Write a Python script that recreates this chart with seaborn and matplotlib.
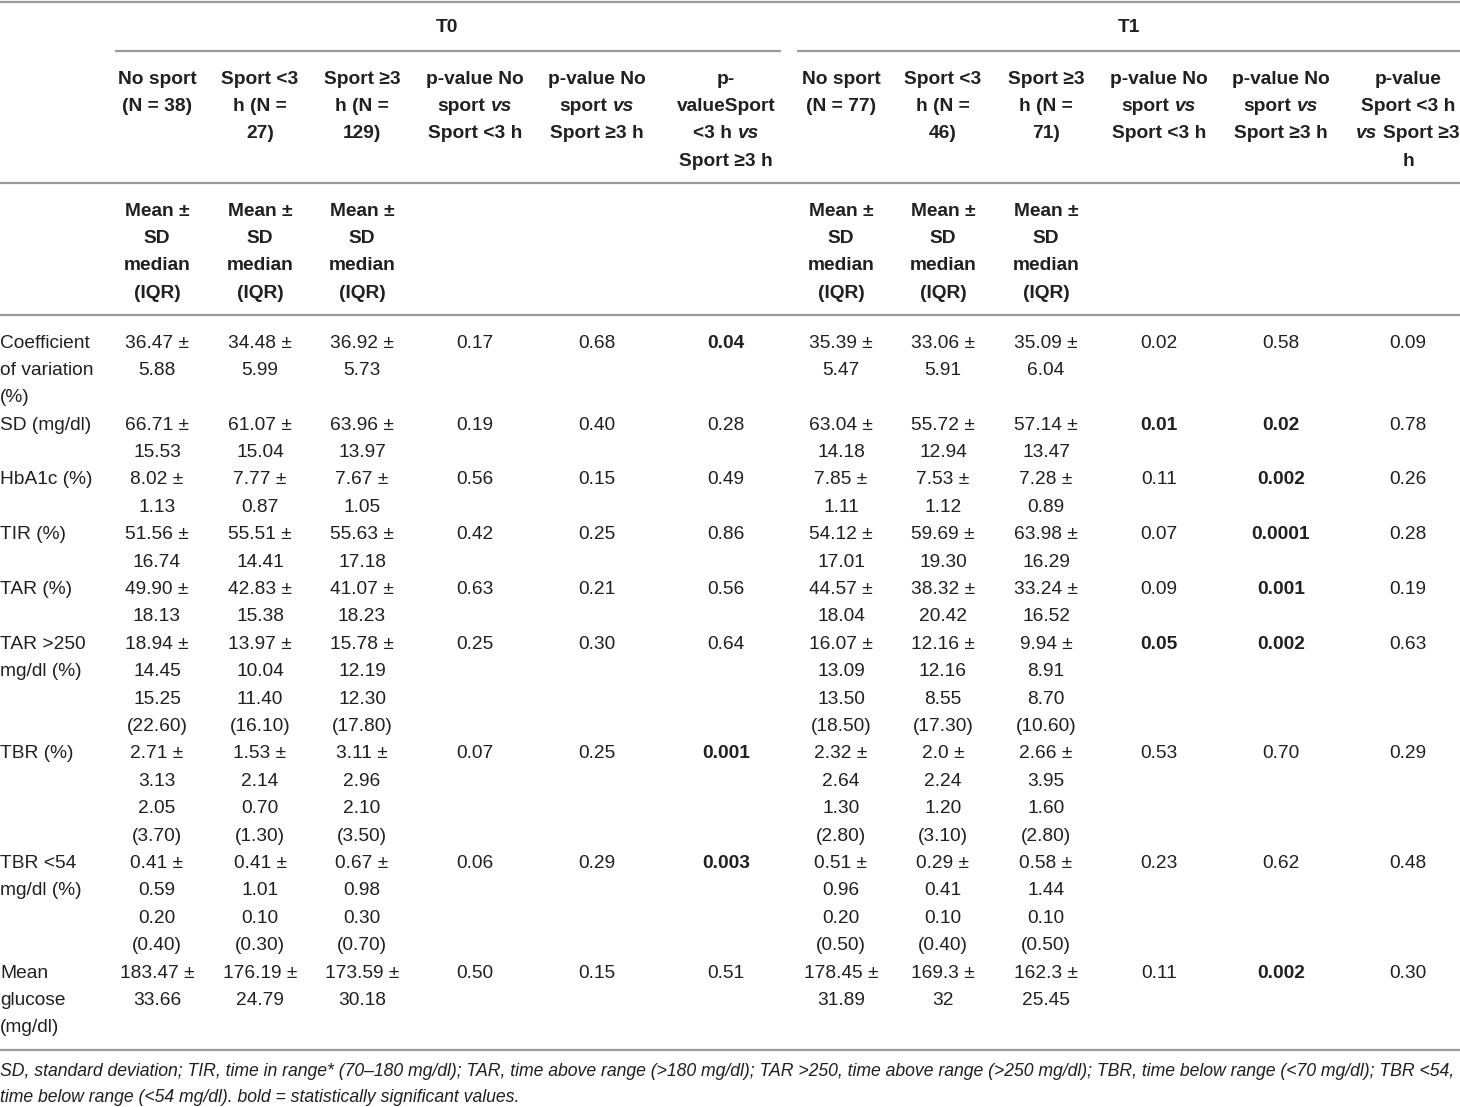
import matplotlib.pyplot as plt
import seaborn as sns

# --- table contents ---
row_labels = [
    ["Coefficient", "of variation", "(%)"],
    ["SD (mg/dl)"],
    ["HbA1c (%)"],
    ["TIR (%)"],
    ["TAR (%)"],
    ["TAR >250", "mg/dl (%)"],
    ["TBR (%)"],
    ["TBR <54", "mg/dl (%)"],
    ["Mean", "glucose", "(mg/dl)"],
]

# T0 groups
t0_nosport_mean = ["36.47", "66.71", "8.02", "51.56", "49.90", "18.94", "2.71", "0.41", "183.47"]
t0_nosport_sd = ["5.88", "15.53", "1.13", "16.74", "18.13", "14.45", "3.13", "0.59", "33.66"]
t0_nosport_median = ["", "", "", "", "", "15.25", "2.05", "0.20", ""]
t0_nosport_iqr = ["", "", "", "", "", "22.60", "3.70", "0.40", ""]

t0_lt3_mean = ["34.48", "61.07", "7.77", "55.51", "42.83", "13.97", "1.53", "0.41", "176.19"]
t0_lt3_sd = ["5.99", "15.04", "0.87", "14.41", "15.38", "10.04", "2.14", "1.01", "24.79"]
t0_lt3_median = ["", "", "", "", "", "11.40", "0.70", "0.10", ""]
t0_lt3_iqr = ["", "", "", "", "", "16.10", "1.30", "0.30", ""]

t0_ge3_mean = ["36.92", "63.96", "7.67", "55.63", "41.07", "15.78", "3.11", "0.67", "173.59"]
t0_ge3_sd = ["5.73", "13.97", "1.05", "17.18", "18.23", "12.19", "2.96", "0.98", "30.18"]
t0_ge3_median = ["", "", "", "", "", "12.30", "2.10", "0.30", ""]
t0_ge3_iqr = ["", "", "", "", "", "17.80", "3.50", "0.70", ""]

t0_p_nosport_lt3 = ["0.17", "0.19", "0.56", "0.42", "0.63", "0.25", "0.07", "0.06", "0.50"]
t0_p_nosport_ge3 = ["0.68", "0.40", "0.15", "0.25", "0.21", "0.30", "0.25", "0.29", "0.15"]
t0_p_lt3_ge3 = ["0.04", "0.28", "0.49", "0.86", "0.56", "0.64", "0.001", "0.003", "0.51"]

# T1 groups
t1_nosport_mean = ["35.39", "63.04", "7.85", "54.12", "44.57", "16.07", "2.32", "0.51", "178.45"]
t1_nosport_sd = ["5.47", "14.18", "1.11", "17.01", "18.04", "13.09", "2.64", "0.96", "31.89"]
t1_nosport_median = ["", "", "", "", "", "13.50", "1.30", "0.20", ""]
t1_nosport_iqr = ["", "", "", "", "", "18.50", "2.80", "0.50", ""]

t1_lt3_mean = ["33.06", "55.72", "7.53", "59.69", "38.32", "12.16", "2.0", "0.29", "169.3"]
t1_lt3_sd = ["5.91", "12.94", "1.12", "19.30", "20.42", "12.16", "2.24", "0.41", "32"]
t1_lt3_median = ["", "", "", "", "", "8.55", "1.20", "0.10", ""]
t1_lt3_iqr = ["", "", "", "", "", "17.30", "3.10", "0.40", ""]

t1_ge3_mean = ["35.09", "57.14", "7.28", "63.98", "33.24", "9.94", "2.66", "0.58", "162.3"]
t1_ge3_sd = ["6.04", "13.47", "0.89", "16.29", "16.52", "8.91", "3.95", "1.44", "25.45"]
t1_ge3_median = ["", "", "", "", "", "8.70", "1.60", "0.10", ""]
t1_ge3_iqr = ["", "", "", "", "", "10.60", "2.80", "0.50", ""]

t1_p_nosport_lt3 = ["0.02", "0.01", "0.11", "0.07", "0.09", "0.05", "0.53", "0.23", "0.11"]
t1_p_nosport_ge3 = ["0.58", "0.02", "0.002", "0.0001", "0.001", "0.002", "0.70", "0.62", "0.002"]
t1_p_lt3_ge3 = ["0.09", "0.78", "0.26", "0.28", "0.19", "0.63", "0.29", "0.48", "0.30"]

# bold = statistically significant
t0_bold_nosport_lt3 = [0, 0, 0, 0, 0, 0, 0, 0, 0]
t0_bold_nosport_ge3 = [0, 0, 0, 0, 0, 0, 0, 0, 0]
t0_bold_lt3_ge3 = [1, 0, 0, 0, 0, 0, 1, 1, 0]
t1_bold_nosport_lt3 = [0, 1, 0, 0, 0, 1, 0, 0, 0]
t1_bold_nosport_ge3 = [0, 1, 1, 1, 1, 1, 0, 0, 1]
t1_bold_lt3_ge3 = [0, 0, 0, 0, 0, 0, 0, 0, 0]

period_labels = ["T0", "T1"]
# header lines, *...* marks italic
t0_headers = [
    ["No sport", "(N = 38)"],
    ["Sport <3", "h (N =", "27)"],
    ["Sport ≥3", "h (N =", "129)"],
    ["p-value No", "sport *vs*", "Sport <3 h"],
    ["p-value No", "sport *vs*", "Sport ≥3 h"],
    ["p-", "valueSport", "<3 h *vs*", "Sport ≥3 h"],
]
t1_headers = [
    ["No sport", "(N = 77)"],
    ["Sport <3", "h (N =", "46)"],
    ["Sport ≥3", "h (N =", "71)"],
    ["p-value No", "sport *vs*", "Sport <3 h"],
    ["p-value No", "sport *vs*", "Sport ≥3 h"],
    ["p-value", "Sport <3 h", "*vs* Sport ≥3", "h"],
]
stat_header = ["Mean ±", "SD", "median", "(IQR)"]

footnote = [
    "SD, standard deviation; TIR, time in range* (70–180 mg/dl); TAR, time above range (>180 mg/dl); "
    "TAR >250, time above range (>250 mg/dl); TBR, time below range (<70 mg/dl); TBR <54,",
    "time below range (<54 mg/dl). bold = statistically significant values.",
]

# --- style ---
sns.set_theme(style="white")
plt.rcParams["font.family"] = ["Liberation Sans", "DejaVu Sans"]
TXT = "#231f20"
RULE = "#9a9a9a"
FS = 13.8
LH = 27.4

fig = plt.figure(figsize=(14.6, 11.07), dpi=100, facecolor="white")
ax = fig.add_axes([0, 0, 1, 1])
ax.set_xlim(0, 1460)
ax.set_ylim(1107, 0)
ax.axis("off")
renderer = fig.canvas.get_renderer()

col_x = [157, 260, 362, 475, 597, 726, 841, 943, 1046, 1159, 1281, 1408]


def text_width(s, weight, style):
    t = ax.text(0, 0, s, fontsize=FS, weight=weight, style=style)
    w = t.get_window_extent(renderer).width
    t.remove()
    return w


def mixed_line(x, y, line, weight="bold"):
    # centre a line whose *...* parts are italic
    parts = [(p, "italic" if i % 2 else "normal") for i, p in enumerate(line.split("*")) if p]
    widths = []
    for p, st in parts:
        core = p.strip()
        w = text_width(core, weight, st) if core else 0
        lead = len(p) - len(p.lstrip())
        trail = len(p) - len(p.rstrip())
        widths.append((core, st, w, lead, trail))
    space = text_width("x x", weight, "normal") - text_width("xx", weight, "normal")
    total = sum(w + (lead + trail) * space for _, _, w, lead, trail in widths)
    cx = x - total / 2
    for core, st, w, lead, trail in widths:
        cx += lead * space
        ax.text(cx, y, core, fontsize=FS, weight=weight, style=st,
                ha="left", va="center", color=TXT)
        cx += w + trail * space


# --- rules ---
ax.hlines([1.5, 183, 315, 1050], 0, 1460, color=RULE, lw=1.6)
ax.hlines(50.5, 115, 781, color=RULE, lw=1.6)
ax.hlines(50.5, 797, 1460, color=RULE, lw=1.6)

# --- header ---
ax.text(447, 28, period_labels[0], fontsize=FS, weight="bold", ha="center", va="center", color=TXT)
ax.text(1129, 28, period_labels[1], fontsize=FS, weight="bold", ha="center", va="center", color=TXT)

for x, lines in zip(col_x, t0_headers + t1_headers):
    for i, line in enumerate(lines):
        mixed_line(x, 79 + i * LH, line)

for x in col_x[0:3] + col_x[6:9]:
    for i, line in enumerate(stat_header):
        ax.text(x, 211 + i * LH, line, fontsize=FS, weight="bold",
                ha="center", va="center", color=TXT)

# --- body ---
groups = [
    (t0_nosport_mean, t0_nosport_sd, t0_nosport_median, t0_nosport_iqr),
    (t0_lt3_mean, t0_lt3_sd, t0_lt3_median, t0_lt3_iqr),
    (t0_ge3_mean, t0_ge3_sd, t0_ge3_median, t0_ge3_iqr),
    (t1_nosport_mean, t1_nosport_sd, t1_nosport_median, t1_nosport_iqr),
    (t1_lt3_mean, t1_lt3_sd, t1_lt3_median, t1_lt3_iqr),
    (t1_ge3_mean, t1_ge3_sd, t1_ge3_median, t1_ge3_iqr),
]
group_x = col_x[0:3] + col_x[6:9]
pvals = [
    (t0_p_nosport_lt3, t0_bold_nosport_lt3), (t0_p_nosport_ge3, t0_bold_nosport_ge3),
    (t0_p_lt3_ge3, t0_bold_lt3_ge3), (t1_p_nosport_lt3, t1_bold_nosport_lt3),
    (t1_p_nosport_ge3, t1_bold_nosport_ge3), (t1_p_lt3_ge3, t1_bold_lt3_ge3),
]
p_x = col_x[3:6] + col_x[9:12]

y0 = 343
for r, label in enumerate(row_labels):
    n_lines = len(label)
    for g in groups:
        n_lines = max(n_lines, 4 if g[2][r] else 2)
    for i, line in enumerate(label):
        ax.text(0, y0 + i * LH, line, fontsize=FS, ha="left", va="center", color=TXT)
    for x, (mean, sd, med, iqr) in zip(group_x, groups):
        cell = [f"{mean[r]} ±", sd[r]]
        if med[r]:
            cell += [med[r], f"({iqr[r]})"]
        for i, line in enumerate(cell):
            ax.text(x, y0 + i * LH, line, fontsize=FS, ha="center", va="center", color=TXT)
    for x, (vals, bold) in zip(p_x, pvals):
        ax.text(x, y0, vals[r], fontsize=FS, weight="bold" if bold[r] else "normal",
                ha="center", va="center", color=TXT)
    y0 += n_lines * LH

# --- footnote ---
for i, line in enumerate(footnote):
    ax.text(0, 1071 + i * 26, line, fontsize=12.7, style="italic",
            ha="left", va="center", color=TXT)

plt.savefig("out.png", dpi=100, facecolor="white")
plt.close()
